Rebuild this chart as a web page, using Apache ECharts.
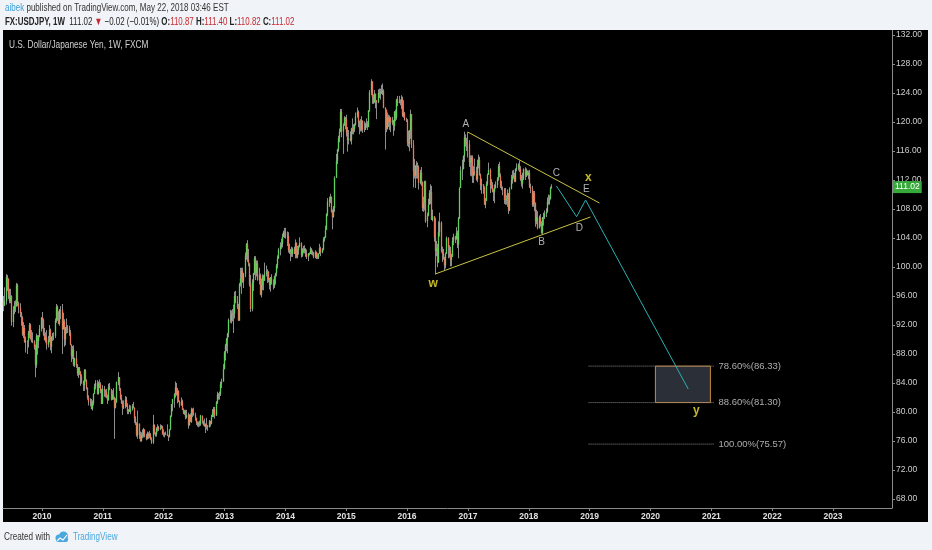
<!DOCTYPE html>
<html><head><meta charset="utf-8">
<script src="https://cdn.jsdelivr.net/npm/echarts@6/dist/echarts.min.js"></script>
<style>html,body{margin:0;padding:0;background:#f0f3f7;}#c{width:932px;height:550px;}</style>
</head><body><div id="c"></div>
<script>
const FONT = "'Liberation Sans','Arimo',sans-serif";

// Weekly USD/JPY bars: each row = [close, high, low]; open = previous close
const firstOpen = 95.3;
const w2009 = [[94.7,96.0,93.9],[95.3,97.2,94.6],[98.6,99.0,94.8],[98.4,98.9,96.7],[96.2,98.1,95.6],[95.3,97.0,95.0],[96.0,97.0,95.0],[92.4,96.1,91.9],[94.1,94.6,91.7],[94.7,95.3,93.5],[94.7,95.4,93.8],[97.5,97.8,94.5],[95.0,97.7,94.6],[94.4,95.2,93.6],[93.6,95.0,93.1],[93.0,93.8,91.9],[90.7,93.2,90.5],[91.6,92.4,90.2],[89.6,92.0,89.6],[89.8,90.4,88.2],[89.8,89.9,88.0],[90.9,91.2,88.9],[92.0,92.3,90.2],[90.1,92.2,90.0],[89.8,91.3,89.6],[89.7,91.0,89.5],[88.9,89.9,88.6],[86.5,89.3,84.8],[90.5,90.8,86.1],[89.8,90.6,87.9],[90.4,90.6,88.8],[91.5,92.0,90.3],[93.0,93.1,91.1]];
const w2010 = [[92.7,93.8,91.5],[90.7,92.9,90.5],[89.9,91.6,89.9],[90.3,91.0,89.6],[89.3,91.3,88.6],[89.9,90.5,88.9],[91.3,92.0,89.6],[89.0,91.5,88.5],[90.4,90.4,88.1],[90.5,90.9,89.8],[90.5,91.0,89.9],[92.6,92.9,90.2],[94.5,94.9,92.3],[92.6,94.7,92.6],[92.2,93.9,92.1],[94.1,94.2,91.9],[94.1,94.6,92.8],[91.4,94.9,88.0],[92.5,93.7,91.6],[90.0,92.8,89.0],[91.7,91.7,89.2],[91.6,92.9,90.8],[91.6,92.0,90.9],[90.9,91.9,90.5],[89.3,91.3,89.2],[87.7,89.2,86.9],[88.6,89.1,87.3],[86.5,89.2,86.3],[87.4,87.5,86.2],[86.4,88.4,86.1],[85.3,86.6,85.0],[86.1,86.2,84.7],[85.6,86.2,85.1],[84.9,85.6,83.6],[84.3,85.2,83.9],[83.7,84.3,82.9],[85.8,85.9,82.9],[84.3,85.9,84.2],[83.3,84.5,83.1],[82.0,83.4,81.7],[81.4,82.3,80.9],[81.3,81.9,80.8],[80.4,81.8,80.4],[81.2,81.6,80.2],[82.5,82.6,80.9],[83.5,83.9,82.5],[84.0,84.4,83.1],[82.5,84.4,82.4],[83.9,84.2,82.4],[83.9,84.5,83.3],[82.9,84.1,82.6],[81.1,83.2,81.1]];
const w2011 = [[83.2,83.7,81.3],[82.9,83.6,82.1],[82.8,83.1,82.0],[82.1,83.2,81.9],[81.6,82.4,81.1],[83.4,83.9,81.8],[83.1,84.0,83.0],[81.7,83.2,81.6],[82.4,83.0,81.8],[81.9,83.3,81.7],[80.6,82.1,76.3],[81.3,81.9,80.5],[84.1,84.2,81.3],[84.8,85.5,83.7],[83.1,84.8,82.9],[81.9,83.3,81.7],[81.2,82.4,81.1],[80.6,81.6,79.6],[80.8,81.6,80.4],[81.7,82.2,80.5],[80.8,82.1,80.7],[80.1,81.2,79.7],[80.3,80.4,79.7],[80.0,81.0,80.0],[80.4,80.9,79.7],[80.8,81.1,80.2],[80.6,81.4,80.5],[79.1,80.6,78.5],[78.4,79.4,78.2],[76.8,78.6,76.6],[78.4,80.2,76.3],[76.8,78.4,76.3],[76.0,77.3,75.9],[76.7,77.2,75.9],[76.8,77.6,76.4],[77.6,77.8,76.5],[76.7,77.6,76.5],[76.3,77.0,76.1],[77.0,77.3,76.2],[76.7,77.2,76.3],[76.9,77.4,76.4],[76.2,77.1,76.2],[75.8,76.5,75.6],[78.2,79.6,75.6],[77.0,78.3,76.9],[76.9,77.2,76.6],[77.7,77.9,76.6],[77.9,78.3,77.3],[77.6,78.1,77.4],[77.8,78.3,77.5],[78.0,78.2,77.7],[76.9,78.1,76.9]];
const w2012 = [[76.9,77.6,76.6],[76.9,77.2,76.5],[77.0,77.3,76.8],[76.7,78.3,76.7],[76.6,76.8,76.0],[77.6,77.6,76.5],[79.5,79.5,77.5],[81.1,81.1,79.3],[81.8,81.8,80.1],[82.4,82.6,80.6],[83.4,84.2,82.0],[82.3,84.0,82.3],[82.9,83.3,81.2],[81.4,83.0,81.4],[80.9,81.6,80.6],[81.5,82.0,80.9],[80.3,81.7,80.3],[79.8,80.5,79.7],[80.1,80.3,79.6],[79.3,80.3,79.0],[79.6,80.3,79.1],[78.2,79.9,77.7],[79.6,79.7,78.1],[78.7,79.8,78.6],[80.4,80.6,78.5],[79.8,80.5,79.3],[79.6,80.6,79.5],[79.2,79.9,78.8],[78.5,79.1,78.2],[78.3,78.7,78.0],[78.4,78.7,77.9],[78.3,78.8,78.0],[79.5,79.6,78.1],[78.7,79.5,78.4],[78.2,78.8,78.1],[78.0,79.1,78.0],[78.4,78.4,77.1],[78.1,79.2,77.6],[77.9,78.2,77.4],[78.7,78.9,77.9],[78.4,78.8,78.0],[79.3,79.6,78.3],[79.9,80.4,79.3],[80.4,80.7,79.3],[79.5,80.7,79.1],[81.3,81.5,79.7],[82.4,82.8,81.1],[82.4,82.6,81.7],[82.5,82.8,81.7],[83.9,84.2,82.2],[84.2,84.6,83.3],[85.9,86.6,84.5],[88.2,88.4,86.1]];
const w2013 = [[89.2,89.4,87.1],[90.1,90.2,88.4],[90.8,90.9,88.1],[92.7,92.9,90.3],[92.6,94.1,92.3],[93.5,94.0,92.2],[93.4,94.2,92.5],[93.6,94.8,90.9],[96.0,96.6,92.9],[95.2,96.7,95.0],[94.5,96.0,94.2],[92.6,94.9,92.6],[97.6,97.8,92.6],[98.4,99.9,97.3],[99.5,99.9,96.3],[98.0,99.9,97.8],[99.0,99.2,97.1],[101.6,102.0,98.6],[103.2,103.3,101.0],[101.0,103.7,100.7],[100.5,102.5,100.1],[97.6,100.4,97.3],[94.2,98.9,93.8],[97.9,98.3,93.9],[99.1,99.2,96.7],[101.2,101.5,98.9],[99.2,101.5,98.2],[100.5,100.9,98.7],[98.2,100.9,98.1],[98.9,99.9,97.6],[96.2,99.1,96.1],[97.5,98.4,95.8],[98.7,99.0,96.8],[98.1,98.9,96.8],[99.1,100.6,98.1],[99.4,100.2,98.7],[99.4,99.7,97.8],[98.2,99.4,97.9],[97.5,98.5,96.9],[98.6,98.6,96.6],[97.8,99.0,97.6],[97.4,98.3,96.9],[98.7,98.8,97.1],[99.1,99.2,97.6],[100.2,100.4,98.7],[101.2,101.6,99.8],[102.4,102.6,101.1],[102.9,103.4,101.6],[103.2,103.9,102.5],[104.2,104.6,102.7],[104.8,105.0,104.1],[104.8,105.4,104.0]];
const w2014 = [[104.2,105.4,103.9],[104.3,104.9,102.9],[102.3,104.8,102.0],[102.0,103.2,101.8],[102.3,102.5,100.8],[101.8,102.8,101.4],[102.5,102.7,101.4],[101.8,102.8,101.8],[103.3,103.8,101.2],[101.4,103.4,101.2],[102.3,102.9,101.2],[102.8,103.0,101.7],[103.3,104.1,102.7],[101.6,103.4,101.3],[102.4,102.6,101.4],[102.2,102.9,101.9],[102.5,103.0,101.9],[101.8,102.6,101.4],[101.4,102.4,101.1],[101.9,101.9,100.8],[101.8,102.0,101.6],[102.5,102.8,101.9],[102.0,102.6,101.7],[102.0,102.3,101.6],[101.4,102.1,101.2],[102.1,102.3,101.2],[101.3,102.0,101.1],[101.3,101.9,101.1],[101.8,101.9,101.1],[102.6,103.2,101.8],[102.0,102.8,101.5],[102.4,102.6,101.9],[103.8,104.1,102.3],[104.1,104.2,103.5],[105.1,105.7,104.0],[107.3,107.4,105.1],[109.0,109.5,107.0],[109.3,109.7,108.3],[109.7,110.1,108.8],[107.6,109.2,107.5],[106.9,107.9,105.2],[108.1,108.4,106.8],[112.3,112.5,107.6],[114.6,115.6,112.3],[116.2,116.3,114.2],[117.8,118.1,115.9],[118.7,119.1,117.2],[121.4,121.8,118.6],[118.7,121.8,117.9],[119.5,119.8,115.6],[120.6,120.8,119.8],[120.4,120.7,119.0]];
const w2015 = [[118.5,121.0,118.0],[117.5,119.3,115.9],[117.7,118.9,116.9],[117.5,118.7,117.3],[119.1,119.2,116.9],[118.8,120.5,118.3],[119.0,119.7,118.3],[119.6,119.8,118.6],[120.8,121.3,119.5],[121.4,122.0,120.6],[120.0,121.6,119.3],[119.1,120.2,118.3],[119.0,120.4,118.7],[120.2,120.8,118.7],[118.9,120.2,118.5],[118.9,120.1,118.6],[119.7,119.9,118.9],[119.7,120.5,119.2],[119.3,120.1,118.9],[121.6,121.6,119.3],[124.1,124.4,121.4],[125.6,125.9,123.7],[123.4,125.1,122.5],[122.7,123.8,122.5],[123.9,124.4,122.6],[123.0,123.9,121.9],[122.7,123.0,120.4],[124.0,124.5,122.6],[123.8,124.6,123.3],[123.9,124.6,123.1],[124.2,125.1,123.9],[124.3,125.3,123.7],[122.0,124.5,121.9],[121.7,122.0,116.2],[119.0,121.7,118.6],[120.6,121.3,119.2],[120.0,121.0,119.3],[120.6,120.9,118.9],[119.9,120.7,118.6],[120.2,120.7,119.6],[119.4,120.3,118.1],[121.4,121.5,118.8],[120.6,121.7,120.1],[123.1,123.2,120.3],[122.6,123.6,122.2],[122.8,123.6,122.6],[122.8,123.1,122.3],[123.2,123.7,121.8],[120.9,123.5,120.7],[121.2,123.0,120.6],[120.3,121.4,120.2],[120.2,120.6,120.0]];
const w2016 = [[117.2,120.4,116.7],[117.0,118.8,116.5],[118.8,118.9,115.97],[121.1,121.7,117.7],[116.8,121.0,116.4],[113.2,117.5,110.98],[112.6,114.9,112.2],[114.0,114.0,110.9],[114.1,114.6,112.2],[113.8,114.4,112.2],[111.6,114.0,110.7],[113.0,113.4,111.4],[111.7,113.8,111.2],[108.1,111.8,107.7],[108.8,109.7,107.6],[111.8,111.9,107.8],[106.3,111.9,106.1],[107.1,107.5,105.5],[108.6,109.4,107.0],[110.2,110.6,108.6],[110.3,111.4,108.7],[106.5,111.2,106.5],[107.0,107.9,106.3],[104.1,106.8,103.5],[102.2,106.8,99.0],[102.6,103.6,101.5],[100.6,103.2,99.98],[104.8,106.3,100.6],[106.1,107.5,104.2],[102.1,106.3,102.0],[101.8,102.8,100.7],[101.3,102.5,101.0],[100.2,101.4,99.5],[101.8,102.0,99.8],[104.0,104.2,101.8],[102.7,104.1,101.2],[102.3,103.0,101.3],[101.0,102.8,100.1],[101.4,101.8,100.1],[103.6,104.1,101.5],[104.2,104.6,103.0],[103.8,104.3,103.3],[104.7,105.5,103.8],[103.1,105.0,102.6],[106.7,106.9,101.2],[110.9,111.0,106.6],[113.3,113.9,110.9],[113.5,114.8,112.0],[115.3,115.4,113.5],[117.9,118.66,114.5],[117.1,118.3,116.6],[116.9,117.8,116.0]];
const w2017 = [[116.9,118.6,115.1],[114.4,117.5,113.8],[114.6,115.4,112.6],[115.1,115.4,112.5],[112.6,115.4,111.6],[113.2,113.9,111.6],[112.9,114.95,112.6],[112.1,113.8,111.9],[114.0,114.8,111.7],[114.8,115.5,113.6],[112.7,115.2,112.6],[111.3,112.9,110.6],[111.4,112.2,110.1],[111.1,111.4,110.1],[108.6,111.1,108.7],[109.1,109.5,108.1],[111.5,111.8,109.2],[112.7,112.9,111.2],[113.4,114.4,112.7],[111.3,113.6,110.2],[111.3,112.1,110.8],[110.4,111.7,110.3],[110.3,110.8,109.1],[110.9,111.4,108.8],[111.3,111.8,110.8],[112.2,112.4,110.9],[113.9,114.2,111.9],[112.5,114.5,112.4],[111.1,112.9,110.9],[110.7,111.9,110.6],[110.7,111.1,109.9],[109.2,110.9,108.7],[109.2,110.9,108.6],[109.4,109.9,108.6],[110.2,110.7,108.3],[107.8,110.0,107.3],[110.8,111.0,107.7],[112.0,112.7,110.7],[112.5,113.3,111.5],[112.6,113.4,112.2],[111.8,113.0,111.7],[113.5,113.6,111.7],[113.7,114.3,113.2],[114.1,114.3,113.3],[113.5,114.7,113.1],[112.1,113.9,111.9],[111.5,112.7,111.1],[112.2,113.0,110.8],[113.5,113.6,112.0],[112.6,113.75,112.0],[113.3,113.6,112.4],[112.7,113.3,112.6]];
const w2018 = [[113.0,113.3,112.1],[111.1,113.4,110.9],[110.8,111.5,110.2],[108.6,111.2,108.3],[110.2,110.5,108.3],[108.8,110.5,107.7],[106.3,108.9,105.55],[106.9,107.9,105.9],[105.4,107.7,105.2],[106.8,107.1,105.3],[106.0,107.3,105.6],[104.7,106.3,104.6],[106.8,106.9,104.56],[106.9,107.5,105.7],[107.3,107.8,106.6],[107.6,108.1,106.9],[109.0,109.6,107.5],[109.1,110.0,108.6],[109.4,109.9,108.6],[110.87,111.1,109.3],[111.02,111.40,110.82]];
const yearBlocks = [['2009-05-18', w2009],['2010-01-04', w2010],['2011-01-03', w2011],['2012-01-02', w2012],['2013-01-07', w2013],['2014-01-06', w2014],['2015-01-05', w2015],['2016-01-04', w2016],['2017-01-02', w2017],['2018-01-01', w2018]];

// Axis labels
const priceTicks = [68,72,76,80,84,88,92,96,100,104,108,112,116,120,124,128,132];
const yearTicks = [2010,2011,2012,2013,2014,2015,2016,2017,2018,2019,2020,2021,2022,2023];

// Elliott wave annotations (data coordinates)
const waveNames  = ['A','B','C','D','E','w','x','y'];
const waveDates  = ['2016-12-19','2018-03-18','2018-06-16','2018-11-01','2018-12-13','2016-06-06','2018-12-25','2020-10-03'];
const waveValues = [119.72,103.45,112.97,105.38,110.76,97.66,112.28,80.14];
const upperTrendDates = ['2016-12-30','2019-03-01'], upperTrendValues = [118.62,108.83];
const lowerTrendDates = ['2016-06-18','2019-01-06'], lowerTrendValues = [99.03,106.90];
const pathDates  = ['2018-06-16','2018-10-15','2018-12-08','2020-08-15'];
const pathValues = [111.17,106.94,109.24,83.17];
const fibPct = ['78.60%','88.60%','100.00%'];
const fibValues = [86.33,81.30,75.57];
const fibDates = ['2018-12-26','2021-01-20'];
const zoneDates = ['2020-01-31','2020-12-26'];

const DAY = 86400000, YEAR = 365.25*DAY;
const T = s => Date.parse(s + 'T00:00:00Z');

const ohlc = [], bodies = [];
let prev = firstOpen;
yearBlocks.forEach(([start, rows]) => {
  let t = T(start);
  rows.forEach(([c, h, l]) => {
    const o = prev;
    ohlc.push([t, o, c, Math.min(l, o, c), Math.max(h, o, c)]);
    bodies.push([t, o, c, Math.min(o, c), Math.max(o, c)]);
    prev = c; t += 7*DAY;
  });
});
const lastClose = ohlc[ohlc.length-1][2];

const xMin = Date.UTC(2010,0,1) - 0.6409*YEAR;
const xMax = xMin + (889/60.85)*YEAR;
const yearStamps = yearTicks.map(y => Date.UTC(y,0,1));

const pair = (ds, vs) => ds.map((d,i) => [T(d), vs[i]]);

const letterData = waveNames.map((n,i) => {
  const big = n === n.toLowerCase();
  return {name:n, value:[T(waveDates[i]), waveValues[i]],
    label:{color: big ? '#f2e437' : '#dcdcdc', fontSize: big ? 12 : 10, fontWeight: big ? 'bold' : 'normal'}};
});
const fibLabelData = fibValues.map((v,i) => ({name: fibPct[i] + '(' + v.toFixed(2) + ')', value:[T(fibDates[1]), v]}));

const chart = echarts.init(document.getElementById('c'), null, {renderer:'canvas', width:932, height:550});
const series = [
  // wicks (thin line low..high)
  {type:'candlestick', name:'wick', data: ohlc, barWidth: 1, silent:true, z:2,
   itemStyle:{color:'#8c8c8c', color0:'#8c8c8c', borderColor:'#8c8c8c', borderColor0:'#8c8c8c', borderWidth:1}},
  // bodies (line open..close, coloured up/down)
  {type:'candlestick', name:'body', data: bodies, barWidth: 1, silent:true, z:3,
   itemStyle:{color:'#5fd15f', color0:'#e8795c', borderColor:'#5fd15f', borderColor0:'#e8795c', borderWidth:1.3},
   markLine:{silent:true, symbol:'none', data:[{yAxis:lastClose}], lineStyle:{color:'rgba(0,0,0,0)', width:0},
     label:{show:true, position:'end', distance:1, formatter: lastClose.toFixed(2), color:'#fff', backgroundColor:'#36a93a',
       padding:[2,2,1,2], fontSize:8.5, fontFamily:FONT}}}
];
fibValues.forEach((v,i) => {
  const s = {type:'line', data: fibDates.map(d => [T(d), v]), symbol:'none', silent:true, z:2,
    lineStyle:{color:'#8a8a8a', width:1, type:[1,1]}};
  if (i === 0) {
    s.markArea = {silent:true, data:[[{xAxis:T(zoneDates[0]), yAxis:fibValues[0]},{xAxis:T(zoneDates[1]), yAxis:fibValues[1]}]],
      itemStyle:{color:'#2b3038', opacity:1, borderColor:'#c98a3d', borderWidth:1}};
  }
  series.push(s);
});
series.push(
  {type:'line', data: pair(upperTrendDates, upperTrendValues), symbol:'none', silent:true, z:4, lineStyle:{color:'#c9c443', width:1}},
  {type:'line', data: pair(lowerTrendDates, lowerTrendValues), symbol:'none', silent:true, z:4, lineStyle:{color:'#c9c443', width:1}},
  {type:'line', data: pair(pathDates, pathValues), symbol:'none', silent:true, z:5, lineStyle:{color:'#2ab0b4', width:1}},
  {type:'scatter', data: letterData, symbolSize:0, silent:true, z:6,
   label:{show:true, position:'inside', formatter: p => p.name, fontFamily:FONT}},
  {type:'scatter', data: fibLabelData, symbolSize:0, silent:true, z:6,
   label:{show:true, position:'right', distance:4, formatter: p => p.name, color:'#d6d6d6', fontSize:9.5, fontFamily:FONT}}
);

const txt = (x, y, sx, style) => ({type:'text', x, y, scaleX:sx, z:101, silent:true,
  style:Object.assign({fontSize:11, fontFamily:FONT, verticalAlign:'middle'}, style)});

chart.setOption({
  animation:false,
  backgroundColor:'transparent',
  grid:{left:3, right:40, top:30, bottom:42, show:false},
  xAxis:{type:'value', min:xMin, max:xMax, splitLine:{show:false},
    axisLine:{show:true, lineStyle:{color:'#8a8a8a'}},
    axisTick:{show:true, length:3, lineStyle:{color:'#8a8a8a'}, customValues: yearStamps},
    axisLabel:{color:'#e2e2e2', fontSize:8.5, fontWeight:'bold', fontFamily:FONT, margin:4,
      customValues: yearStamps,
      formatter: v => String(new Date(v).getUTCFullYear())}},
  yAxis:{type:'value', position:'right', min:66.759, max:132.69, splitLine:{show:false},
    axisLine:{show:true, lineStyle:{color:'#8a8a8a'}},
    axisTick:{show:true, length:3, lineStyle:{color:'#8a8a8a'}, customValues: priceTicks},
    axisLabel:{color:'#cfcfcf', fontSize:8.5, fontFamily:FONT, margin:4, customValues: priceTicks,
      formatter: v => v.toFixed(2)}},
  graphic:[
    {type:'rect', shape:{x:3, y:30, width:925, height:492}, style:{fill:'#000'}, z:-10, silent:true},
    {type:'rect', shape:{x:0, y:0, width:932, height:30}, style:{fill:'#f0f3f7'}, z:100, silent:true},
    txt(5, 8, 0.73, {text:'{a|aibek} published on TradingView.com, May 22, 2018 03:46 EST', fill:'#333',
      rich:{a:{fill:'#3a9fd9', fontSize:11, fontFamily:FONT}}}),
    txt(5, 22, 0.72, {text:'{b|FX:USDJPY, 1W}  111.02 {r|▼} −0.02 (−0.01%) {b|O:}{r|110.87} {b|H:}{r|111.40} {b|L:}{r|110.82} {b|C:}{r|111.02}',
      fill:'#222', rich:{b:{fill:'#222', fontWeight:'bold', fontSize:11, fontFamily:FONT},
            r:{fill:'#c8282e', fontSize:11, fontFamily:FONT}}}),
    txt(9, 45, 0.79, {text:'U.S. Dollar/Japanese Yen, 1W, FXCM', fill:'#d2d2d2', fontSize:10.5}),
    txt(4, 537, 0.78, {text:'Created with', fill:'#333', fontSize:10.5}),
    {type:'group', x:55, y:531, z:101, silent:true, children:[
      {type:'circle', shape:{cx:4, cy:7, r:3.5}, style:{fill:'#4aa8de'}},
      {type:'circle', shape:{cx:8.5, cy:5, r:4.5}, style:{fill:'#4aa8de'}},
      {type:'rect', shape:{x:1, y:6, width:12, height:5, r:2}, style:{fill:'#4aa8de'}},
      {type:'polyline', shape:{points:[[2,10],[5,7],[8,9],[12,4]]}, style:{stroke:'#fff', lineWidth:1.2, fill:null}}
    ]},
    txt(73, 537, 0.77, {text:'TradingView', fill:'#4aa8de', fontSize:10.5})
  ],
  series: series
});
</script>
</body></html>
